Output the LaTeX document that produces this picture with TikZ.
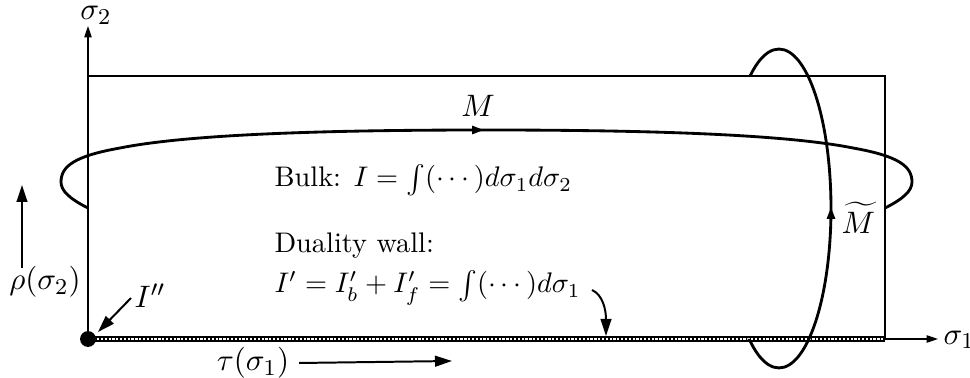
\documentclass[tikz,border=0pt]{standalone}
\usepackage{amsmath, amssymb}
\usepackage{tikz}
\usetikzlibrary{arrows.meta, positioning, calc}

\begin{document}
\begin{tikzpicture}[
      x=0.0124cm, y=-0.0124cm,
      eje/.style={-{Triangle[length=4pt,width=2.6pt]}, line width=0.4pt},
      lazo/.style={line width=1pt},
      sentido/.style={-{Triangle[length=4.2pt,width=2.8pt]}, line width=1pt},
      flecha/.style={-{Triangle[length=6pt,width=3.8pt]}, line width=0.7pt},
      etiqueta/.style={font=\fontsize{11}{13}\selectfont},
      texto/.style={inner sep=0pt, anchor=base west}]
    \useasboundingbox (0,0) rectangle (970,378);
    \coordinate (origen) at (88,339);
    \coordinate (esquina) at (885,76);
    \coordinate (tope2) at (88,26);
    \coordinate (tope1) at (938,339);
    \node[etiqueta, anchor=base, inner sep=0pt] (s2) at (96,20) {$\sigma_2$};
    \node[etiqueta, anchor=west, inner sep=0pt] (s1) at (943,340) {$\sigma_1$};
    \draw[eje] (origen) -- (tope2);
    \draw[eje] (origen) -- (tope1);
    \draw[line width=0.4pt] (origen) rectangle (esquina);
    % lazo M
    \draw[lazo] (88,208) .. controls (70,199) and (61,191) .. (61,182)
      .. controls (61,166) and (75,156) .. (120,148)
      .. controls (190,134) and (330,130) .. (486,130)
      .. controls (643,130) and (783,134) .. (853,148)
      .. controls (898,156) and (912,166) .. (912,182)
      .. controls (912,191) and (903,199) .. (885,208);
    \draw[sentido] (468,130) -- (484,130);
    \node[etiqueta] (M) at (478,106) {$M$};
    % pared de dualidad
    \draw[line width=2.4pt] (origen) -- (origen -| esquina);
    \draw[white, line width=1pt, dash pattern=on 0.8pt off 0.55pt]
      ([xshift=0.5pt]origen) -- ([xshift=-0.5pt]origen -| esquina);
    % lazo M tilde
    \begin{scope}
      \clip (779,0) rectangle (970,378);
      \draw[lazo] (779,208.5) ellipse [x radius=0.645cm, y radius=1.978cm];
    \end{scope}
    \begin{scope}
      \clip (700,0) rectangle (779,76) (700,339) rectangle (779,378);
      \draw[lazo] (779,208.5) ellipse [x radius=0.645cm, y radius=1.978cm];
    \end{scope}
    \draw[sentido] (831,230) -- (831,207);
    \node[etiqueta, anchor=west, inner sep=0pt] (Mt) at (841,218) {$\widetilde{M}$};
    \fill (origen) circle (2.8pt);
    % textos
    \node[texto] (bulk) at (274,187) {Bulk: $I=\int(\cdots)d\sigma_1 d\sigma_2$};
    \node[texto] (pared) at (274,253) {Duality wall:};
    \node[texto] (iprima) at (274,293) {$I'=I'_b+I'_f=\int(\cdots)d\sigma_1$};
    \coordinate (curva) at (592,290);
    \coordinate (pie) at (606,336);
    \draw[flecha] (curva) .. controls (603,295) and (606,310) .. (pie);
    \node[etiqueta] (rho) at (45,282) {$\rho(\sigma_2)$};
    \coordinate (rhobase) at (22,268);
    \coordinate (rhotope) at (22,185);
    \draw[flecha] (rhobase) -- (rhotope);
    \node[etiqueta] (idos) at (150,296) {$I''$};
    \coordinate (idosbase) at (131,298);
    \coordinate (idostope) at (98,332);
    \draw[flecha] (idosbase) -- (idostope);
    \node[etiqueta] (tau) at (253,363) {$\tau(\sigma_1)$};
    \coordinate (taufin) at (452,361);
    \draw[flecha] (tau.east) -- (taufin);
  \end{tikzpicture}
\end{document}
